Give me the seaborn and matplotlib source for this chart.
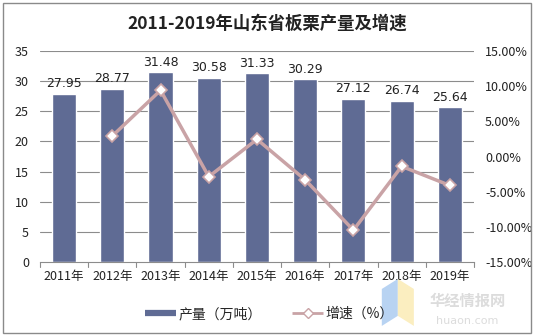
import numpy as np
import pandas as pd
import matplotlib
matplotlib.use("Agg")
import matplotlib.pyplot as plt
from matplotlib.lines import Line2D
from matplotlib.patches import Rectangle, Polygon
from matplotlib.ticker import FuncFormatter, MultipleLocator
import seaborn as sns

years = ["2011年", "2012年", "2013年", "2014年", "2015年", "2016年", "2017年", "2018年", "2019年"]
output = [27.95, 28.77, 31.48, 30.58, 31.33, 30.29, 27.12, 26.74, 25.64]
growth = [np.nan, 2.93, 9.42, -2.86, 2.45, -3.32, -10.47, -1.40, -4.11]

sns.set_theme(style="white")
plt.rcParams["font.family"] = ["Noto Sans CJK SC", "DejaVu Sans"]

bar_color = "#5f6b94"
line_color = "#c9a3a6"
grid_color = "#8c8c8c"

fig = plt.figure(figsize=(5.34, 3.36), dpi=100)
ax = fig.add_axes([0.0749, 0.2202, 0.8127, 0.6278])

df = pd.DataFrame({"year": years, "output": output, "growth": growth})
sns.barplot(data=df, x="year", y="output", color=bar_color, width=0.5,
            saturation=1, ax=ax, zorder=2)

ax.set_ylim(0, 35)
ax.yaxis.set_major_locator(MultipleLocator(5))
ax.set_xlim(-0.5, len(years) - 0.5)
ax.set_xlabel("")
ax.set_ylabel("")
for y in np.arange(5, 36, 5):
    ax.axhline(y, color=grid_color, lw=0.8, zorder=1)
for s in ["top", "right", "left"]:
    ax.spines[s].set_visible(False)
ax.spines["bottom"].set_color(grid_color)
ax.spines["bottom"].set_linewidth(0.8)
ax.tick_params(axis="y", length=0, pad=8, labelsize=9, colors="#222222")
ax.tick_params(axis="x", length=0, pad=6, labelsize=9, colors="#222222")
# category separators on the x axis
for b in np.arange(-0.5, len(years) + 0.5, 1.0):
    ax.plot([b, b], [0, -0.9], color=grid_color, lw=0.8, clip_on=False)

for i, v in enumerate(output):
    ax.text(i, v + 0.6, f"{v:.2f}", ha="center", va="bottom", fontsize=9,
            color="#222222", family=["DejaVu Sans"])

ax2 = ax.twinx()
pos = np.arange(len(years))
sns.lineplot(x=pos, y=growth, ax=ax2, color=line_color, lw=2.5, marker="D",
             markersize=6, markerfacecolor="white", markeredgecolor=line_color,
             markeredgewidth=1.2, zorder=3)
ax2.set_ylim(-15, 15)
ax2.yaxis.set_major_locator(MultipleLocator(5))
ax2.yaxis.set_major_formatter(FuncFormatter(lambda v, p: f"{v:.2f}%"))
for s in ["top", "right", "left", "bottom"]:
    ax2.spines[s].set_visible(False)
ax2.tick_params(axis="y", length=0, pad=8, labelsize=9, colors="#222222")
ax2.set_xlim(-0.5, len(years) - 0.5)

fig.suptitle("2011-2019年山东省板栗产量及增速", x=0.5, y=0.955, fontsize=12.5,
             fontweight="bold", color="#222222")

handles = [
    Line2D([0], [0], color=bar_color, lw=4.5, solid_capstyle="butt"),
    Line2D([0], [0], color=line_color, lw=2, marker="D", markersize=5,
           markerfacecolor="white", markeredgecolor=line_color,
           solid_capstyle="butt"),
]
fig.legend(handles, ["产量（万吨）", "增速（%）"], loc="center", ncol=2,
           bbox_to_anchor=(0.505, 0.065), frameon=False, fontsize=10,
           handlelength=2.2, columnspacing=2.2, handletextpad=0.2)

# watermark logo and text
fig.patches.append(Polygon([(0.715, 0.03), (0.745, 0.06), (0.745, 0.17), (0.715, 0.14)],
                           closed=True, transform=fig.transFigure,
                           facecolor="#b8d3f2", edgecolor="none"))
fig.patches.append(Polygon([(0.745, 0.06), (0.775, 0.03), (0.775, 0.14), (0.745, 0.17)],
                           closed=True, transform=fig.transFigure,
                           facecolor="#fbeec0", edgecolor="none"))
fig.text(0.875, 0.105, "华经情报网", fontsize=11, color="#dcdcdc", ha="center",
         va="center", fontweight="bold")
fig.text(0.875, 0.045, "huaon.com", fontsize=8, color="#dcdcdc", ha="center",
         va="center", family=["DejaVu Sans"])

# outer frame
fig.patches.append(Rectangle((0.006, 0.008), 0.988, 0.982, transform=fig.transFigure,
                             fill=False, edgecolor="#8a8a8a", lw=1.0))

fig.savefig("out.png", dpi=100)
